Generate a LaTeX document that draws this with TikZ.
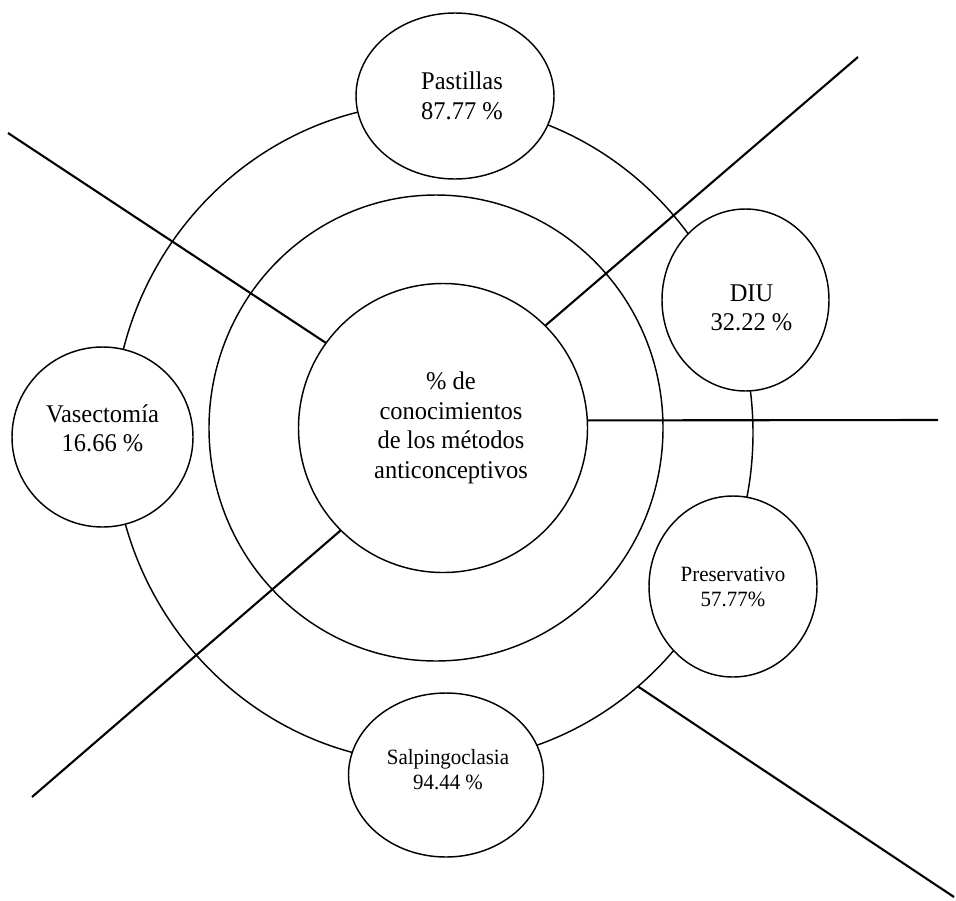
\documentclass[tikz,border=0pt]{standalone}
\usepackage{fontspec}
\setmainfont[FakeStretch=0.96]{Liberation Serif}
\usetikzlibrary{shapes.geometric}
\begin{document}
\begin{tikzpicture}[x=1pt,y=-1pt,
  ringline/.style={ellipse, draw, line width=1.45pt, inner sep=0pt},
  spoke/.style={line width=2.1pt},
  bigtext/.style={align=center, font=\fontsize{25.5}{29.5}\selectfont},
  sat/.style={ringline, fill=white, bigtext},
  satsmall/.style={ringline, fill=white, align=center, font=\fontsize{21.8}{25}\selectfont}]
\useasboundingbox (0,0) rectangle (956,900);
\fill[white] (0,0) rectangle (956,900);
% rings
\node[ringline, minimum width=640pt, minimum height=660pt] (ring) at (433,433) {};
\node[ringline, minimum width=454pt, minimum height=466pt] (mid) at (436,428) {};
\node[ringline, bigtext, minimum width=289pt, minimum height=289pt] (ctr) at (443,428)
  {\hspace*{16pt}\% de\\\hspace*{16pt}conocimientos\\\hspace*{16pt}de los métodos\\\hspace*{16pt}anticonceptivos};
% free ends of the spokes
\coordinate (tl) at (8,133);
\coordinate (tr) at (858,57);
\coordinate (bl) at (32,797);
\coordinate (rt) at (938,420);
\coordinate (br) at (954,897);
% spokes
\draw[spoke] (tl) -- (ctr.144.5);
\draw[spoke] (tr) -- (ctr.45);
\draw[spoke] (bl) -- (ctr.225.6);
\draw[spoke] (ctr.3) -- (rt);
\draw[spoke] (ring.-51.7) -- (br);
% satellites
\node[sat, minimum width=198pt, minimum height=166pt] (pas) at (455,96)
  {\hspace*{14pt}Pastillas\\\hspace*{14pt}87.77 \%};
\node[sat, minimum width=167pt, minimum height=182pt] (diu) at (745.5,300)
  {\rule{0pt}{32pt}\hspace*{12pt}DIU\\\hspace*{12pt}32.22 \%};
\node[sat, minimum width=181pt, minimum height=180pt] (vas) at (102.5,437)
  {Vasectomía\\16.66 \%\rule[-18pt]{0pt}{1pt}};
\node[satsmall, minimum width=168pt, minimum height=181pt] (pre) at (733,586.5)
  {Preservativo\\57.77\%};
\node[satsmall, minimum width=195pt, minimum height=164pt] (sal) at (446,775)
  {\hspace*{4pt}Salpingoclasia\\\hspace*{4pt}94.44 \%\rule[-11pt]{0pt}{1pt}};
\end{tikzpicture}
\end{document}
